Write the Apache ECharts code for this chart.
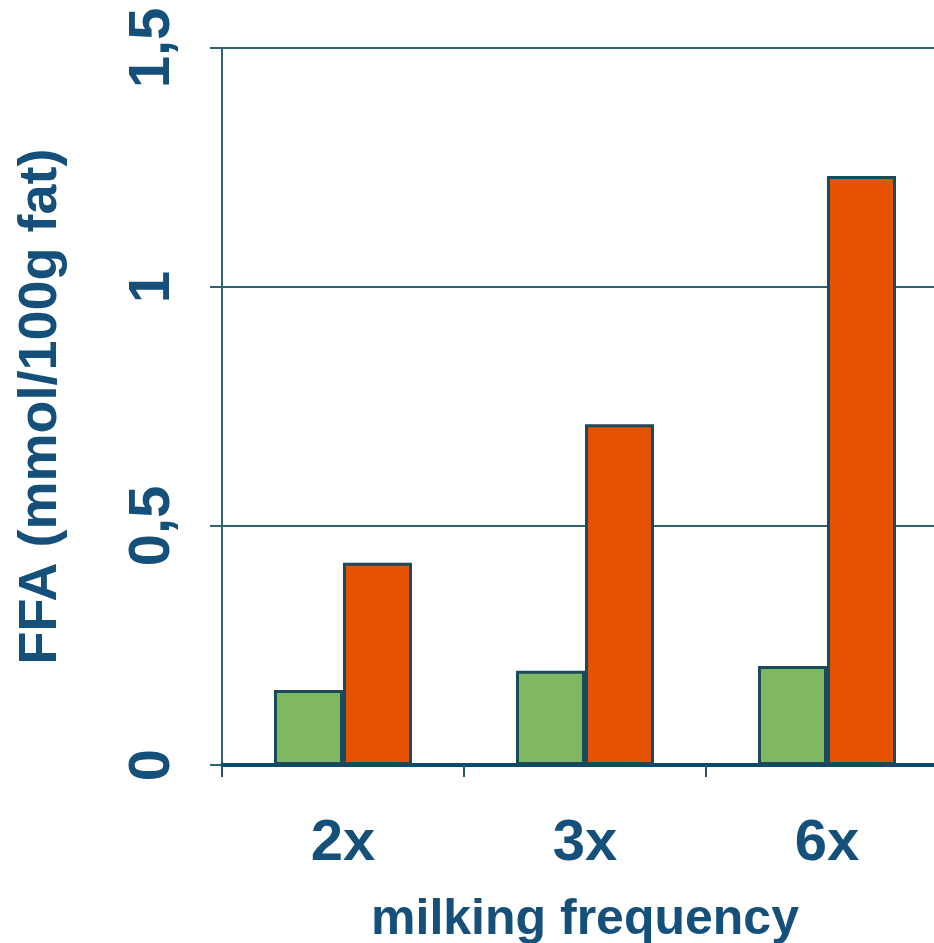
<!DOCTYPE html>
<html><head><meta charset="utf-8">
<script src="https://cdn.jsdelivr.net/npm/echarts@6/dist/echarts.min.js"></script>
<style>html,body{margin:0;padding:0;background:#fff}#c{width:934px;height:943px}</style>
</head><body><div id="c"></div>
<script>
var categories = ['2x', '3x', '6x'];
var seriesA = [0.157, 0.197, 0.207];
var seriesB = [0.423, 0.713, 1.232];
var yTicks = [0, 0.5, 1, 1.5];
var txt = '#14507a';
var font = '"Liberation Sans", Arial, sans-serif';
var chart = echarts.init(document.getElementById('c'), null, {renderer: 'canvas'});
chart.setOption({
  animation: false,
  grid: {left: 222, right: -14, top: 48, bottom: 178, containLabel: false, outerBoundsMode: 'none'},
  xAxis: {
    type: 'category', data: categories,
    axisLine: {lineStyle: {color: '#0b4a6b', width: 4}},
    axisTick: {show: true, length: 12, lineStyle: {color: '#2a5565', width: 2}},
    axisLabel: {color: txt, fontFamily: font, fontWeight: 'bold', fontSize: 58, margin: 50},
    name: 'milking frequency', nameLocation: 'middle', nameGap: 130,
    nameTextStyle: {color: txt, fontFamily: font, fontWeight: 'bold', fontSize: 50}
  },
  yAxis: {
    type: 'value', min: 0, max: 1.5, interval: 0.5,
    axisLine: {show: true, lineStyle: {color: '#2f6272', width: 2}},
    axisTick: {show: true, length: 12, lineStyle: {color: '#2f6272', width: 2}},
    splitLine: {show: true, lineStyle: {color: '#2f6272', width: 2}},
    axisLabel: {color: txt, fontFamily: font, fontWeight: 'bold', fontSize: 58, rotate: 90, margin: 40,
      formatter: function (v) { return String(v).replace('.', ','); }},
    name: 'FFA (mmol/100g fat)', nameLocation: 'middle', nameGap: 154, nameRotate: 90,
    nameTextStyle: {color: txt, fontFamily: font, fontWeight: 'bold', fontSize: 54}
  },
  series: [
    {type: 'bar', data: seriesA, barWidth: 69, barGap: '0%',
     itemStyle: {color: '#80b862', borderColor: '#1b4a5c', borderWidth: 3}},
    {type: 'bar', data: seriesB, barWidth: 69, barGap: '0%',
     itemStyle: {color: '#e65300', borderColor: '#1b4a5c', borderWidth: 3}}
  ]
});
</script></body></html>
